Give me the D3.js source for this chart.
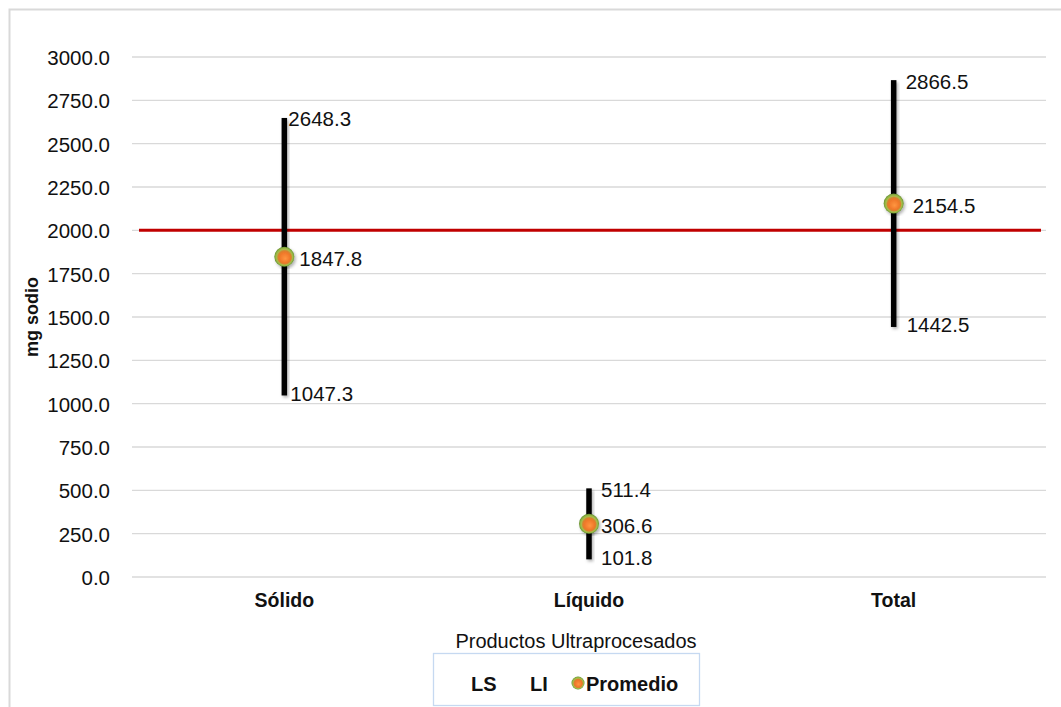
<!DOCTYPE html>
<html>
<head>
<meta charset="utf-8">
<script src="https://cdn.jsdelivr.net/npm/d3@7"></script>
<style>
  body { margin: 0; background: #fff; }
  svg { font-family: "Liberation Sans", Arial, sans-serif; }
</style>
</head>
<body>
<svg width="1061" height="707"></svg>
<script>
// data
var categories = ["Sólido", "Líquido", "Total"]
var ls = [2648.3, 511.4, 2866.5]
var li = [1047.3, 101.8, 1442.5]
var promedio = [1847.8, 306.6, 2154.5]
var yTicks = [0, 250, 500, 750, 1000, 1250, 1500, 1750, 2000, 2250, 2500, 2750, 3000]
var referencia = 2000

var svg = d3.select("svg")

// outer chart border
svg.append("rect")
  .attr("x", 9.5).attr("y", 9.5)
  .attr("width", 1070).attr("height", 720)
  .attr("fill", "none").attr("stroke", "#d9d9d9").attr("stroke-width", 2)

var plotLeft = 132, plotRight = 1046, plotTop = 57, plotBottom = 577

var x = d3.scaleBand().domain(categories).range([plotLeft, plotRight])
var y = d3.scaleLinear().domain([0, 3000]).range([plotBottom, plotTop])

var defs = svg.append("defs")
var grad = defs.append("radialGradient").attr("id", "ball")
  .attr("cx", "50%").attr("cy", "50%").attr("r", "50%")
  .attr("fx", "55%").attr("fy", "60%")
grad.append("stop").attr("offset", "0%").attr("stop-color", "#ff9640")
grad.append("stop").attr("offset", "50%").attr("stop-color", "#f0782a")
grad.append("stop").attr("offset", "66%").attr("stop-color", "#d8822e")
grad.append("stop").attr("offset", "78%").attr("stop-color", "#a9bb4a")
grad.append("stop").attr("offset", "90%").attr("stop-color", "#8cb040")
grad.append("stop").attr("offset", "100%").attr("stop-color", "#5f8a2c")

var shadow = defs.append("filter").attr("id", "shadow")
  .attr("x", "-50%").attr("y", "-10%").attr("width", "200%").attr("height", "120%")
shadow.append("feDropShadow").attr("dx", 1.5).attr("dy", 2).attr("stdDeviation", 1.5)
  .attr("flood-color", "#000").attr("flood-opacity", 0.3)

// gridlines
svg.append("g").selectAll("line")
  .data(yTicks)
  .enter().append("line")
    .attr("x1", plotLeft).attr("x2", plotRight)
    .attr("y1", function (d) { return y(d) }).attr("y2", function (d) { return y(d) })
    .attr("stroke", "#d9d9d9").attr("stroke-width", 1.3)

// y axis labels
var yAxis = svg.append("g")
  .attr("transform", "translate(" + (plotLeft - 19) + ",0)")
  .call(d3.axisLeft(y).tickValues(yTicks).tickSize(0).tickFormat(d3.format(".1f")))
yAxis.select(".domain").remove()
yAxis.selectAll("text")
  .attr("font-size", 20.5).attr("fill", "#111").attr("dy", "0.36em")
  .attr("font-family", "Liberation Sans, Arial, sans-serif")

// x axis labels
var xAxis = svg.append("g")
  .attr("transform", "translate(0," + (plotBottom + 13) + ")")
  .call(d3.axisBottom(x).tickSize(0))
xAxis.select(".domain").remove()
xAxis.selectAll("text")
  .attr("font-size", 19.5).attr("font-weight", "bold").attr("fill", "#111")
  .attr("font-family", "Liberation Sans, Arial, sans-serif")

// axis titles
svg.append("text")
  .attr("transform", "translate(38," + 317 + ") rotate(-90)")
  .attr("text-anchor", "middle")
  .attr("font-size", 18).attr("font-weight", "bold").attr("fill", "#111")
  .text("mg sodio")

svg.append("text")
  .attr("x", 576).attr("y", 648)
  .attr("text-anchor", "middle")
  .attr("font-size", 20).attr("fill", "#111")
  .text("Productos Ultraprocesados")

// reference line
svg.append("line")
  .attr("x1", plotLeft + 7).attr("x2", plotRight - 5)
  .attr("y1", y(referencia)).attr("y2", y(referencia))
  .attr("stroke", "#c00000").attr("stroke-width", 3)

// high-low lines
var cx = function (i) { return x(categories[i]) + x.bandwidth() / 2 }
svg.append("g").selectAll("rect")
  .data(categories)
  .enter().append("rect")
    .attr("x", function (d, i) { return cx(i) - 2.75 })
    .attr("width", 5.5)
    .attr("y", function (d, i) { return y(ls[i]) })
    .attr("height", function (d, i) { return y(li[i]) - y(ls[i]) })
    .attr("fill", "#000")
    .attr("filter", "url(#shadow)")

// markers
svg.append("g").selectAll("circle")
  .data(promedio)
  .enter().append("circle")
    .attr("cx", function (d, i) { return cx(i) })
    .attr("cy", function (d) { return y(d) })
    .attr("r", 10)
    .attr("fill", "url(#ball)")
    .attr("filter", "url(#shadow)")

// data labels
var lsDx = [4, 12, 12], liDx = [6, 12, 13], avgDx = [15, 12, 19]
var labelStyle = function (sel) {
  sel.attr("font-size", 20.5).attr("fill", "#111").attr("dy", "0.36em")
}
var fmt = d3.format(".1f")
svg.append("g").selectAll("text").data(ls).enter().append("text")
  .attr("x", function (d, i) { return cx(i) + lsDx[i] })
  .attr("y", function (d) { return y(d) + 1 })
  .text(function (d) { return fmt(d) })
  .call(labelStyle)
svg.append("g").selectAll("text").data(li).enter().append("text")
  .attr("x", function (d, i) { return cx(i) + liDx[i] })
  .attr("y", function (d) { return y(d) - 2 })
  .text(function (d) { return fmt(d) })
  .call(labelStyle)
svg.append("g").selectAll("text").data(promedio).enter().append("text")
  .attr("x", function (d, i) { return cx(i) + avgDx[i] })
  .attr("y", function (d) { return y(d) + 2 })
  .text(function (d) { return fmt(d) })
  .call(labelStyle)

// legend
var legend = svg.append("g")
legend.append("rect")
  .attr("x", 433.5).attr("y", 653.5).attr("width", 266).attr("height", 52)
  .attr("fill", "#fff").attr("stroke", "#c6d9f1").attr("stroke-width", 1.3)
var legendText = function (sel) {
  sel.attr("font-size", 20).attr("font-weight", "bold").attr("fill", "#111")
    .attr("dy", "0.36em")
}
legend.append("text").attr("x", 471).attr("y", 684).text("LS").call(legendText)
legend.append("text").attr("x", 530).attr("y", 684).text("LI").call(legendText)
legend.append("circle").attr("cx", 578).attr("cy", 683).attr("r", 6.5)
  .attr("fill", "url(#ball)")
legend.append("text").attr("x", 586).attr("y", 684).text("Promedio").call(legendText)
</script>
</body>
</html>
